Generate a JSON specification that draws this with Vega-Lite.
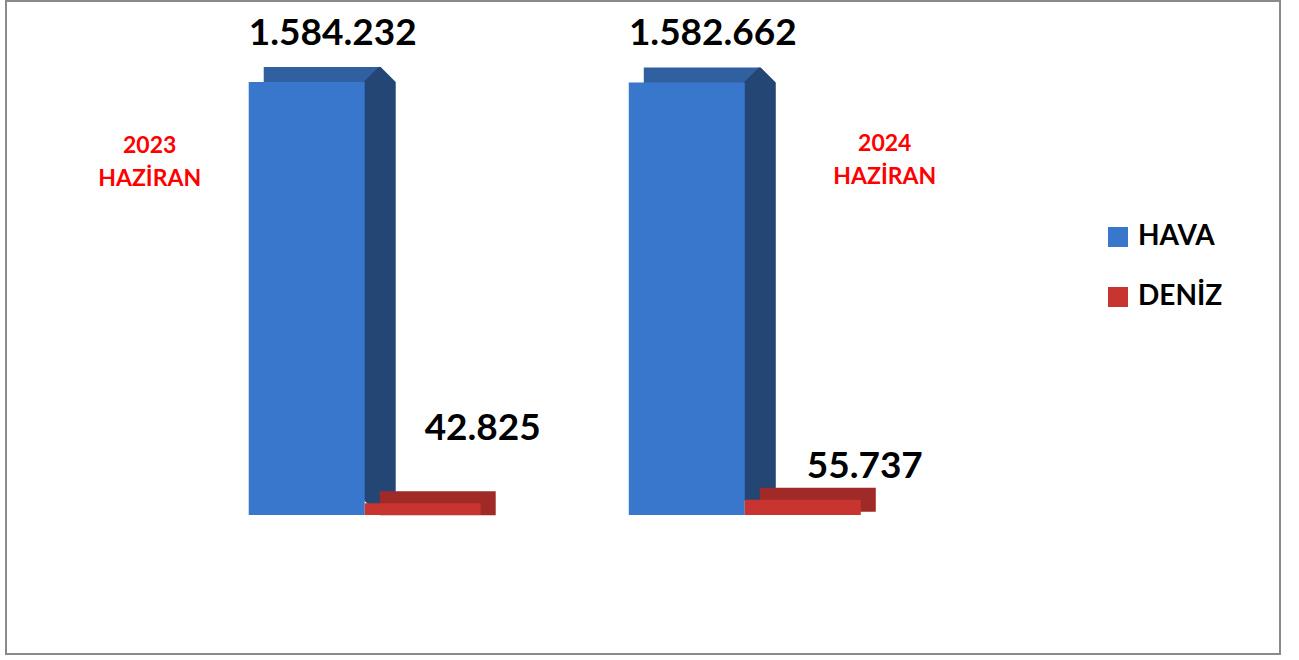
{
  "$schema": "https://vega.github.io/schema/vega-lite/v6.json",
  "width": 1274,
  "height": 653,
  "padding": {"left": 6, "top": 1, "right": 19, "bottom": 6},
  "autosize": {"type": "none"},
  "background": "white",
  "config": {
    "view": {"stroke": "#8a8a8a", "strokeWidth": 2},
    "font": "Lato",
    "locale": {"number": {"decimal": ",", "thousands": ".", "grouping": [3], "currency": ["", ""]}}
  },
  "data": {"values": [
    {"year": "2023", "type": "HAVA", "value": 1584232},
    {"year": "2023", "type": "DENİZ", "value": 42825},
    {"year": "2024", "type": "HAVA", "value": 1582662},
    {"year": "2024", "type": "DENİZ", "value": 55737}
  ]},
  "encoding": {
    "x": {"field": "year", "type": "nominal", "axis": null,
      "scale": {"domain": ["2023", "2024"], "paddingInner": 0.368, "paddingOuter": 0.86, "align": 0.365}},
    "y": {"field": "value", "type": "quantitative", "axis": null,
      "scale": {"domain": [-508600, 1880700], "zero": false, "nice": false}}
  },
  "layer": [
    {
      "transform": [{"filter": "datum.type === 'HAVA'"}],
      "mark": {"type": "bar", "width": 116, "xOffset": -43, "fill": "#30609f", "stroke": "#30609f", "strokeWidth": 30, "strokeJoin": "bevel"},
      "encoding": {"y2": {"field": "value"}}
    },
    {
      "transform": [{"filter": "datum.type === 'HAVA'"}],
      "mark": {"type": "bar", "width": 2, "xOffset": 15, "fill": "#234675", "stroke": "#234675", "strokeWidth": 30, "strokeJoin": "bevel"},
      "encoding": {"y2": {"datum": 55000}}
    },
    {
      "transform": [{"filter": "datum.type === 'HAVA'"}],
      "mark": {"type": "bar", "width": 116, "xOffset": -58},
      "encoding": {
        "color": {"field": "type", "type": "nominal",
          "scale": {"domain": ["HAVA", "DENİZ"], "range": ["#3877cc", "#c8342f"]},
          "legend": {"title": null, "orient": "none", "legendX": 1098, "legendY": 222, "padding": 0,
            "symbolType": "square", "symbolSize": 400, "symbolStrokeWidth": 0,
            "labelFontSize": 28, "labelFontWeight": "bold", "labelColor": "#000000", "labelFont": "Lato",
            "rowPadding": 32, "labelOffset": 6}}
      }
    },
    {
      "transform": [{"filter": "datum.type === 'DENİZ'"}],
      "mark": {"type": "bar", "width": 116, "xOffset": 73, "fill": "#a02a27", "stroke": "#a02a27", "strokeWidth": 24, "strokeJoin": "bevel"},
      "encoding": {"y2": {"field": "value"}}
    },
    {
      "transform": [{"filter": "datum.type === 'DENİZ'"}],
      "mark": {"type": "bar", "width": 116, "xOffset": 58},
      "encoding": {
        "color": {"field": "type", "type": "nominal"}
      }
    },
    {
      "transform": [{"filter": "datum.type === 'HAVA'"}],
      "mark": {"type": "text", "fontSize": 37, "fontWeight": "bold", "color": "#000000", "baseline": "alphabetic", "dx": -32, "dy": -37},
      "encoding": {"text": {"field": "value", "type": "quantitative", "format": ",d"}}
    },
    {
      "transform": [{"filter": "datum.type === 'DENİZ' && datum.year === '2023'"}],
      "mark": {"type": "text", "fontSize": 37, "fontWeight": "bold", "color": "#000000", "baseline": "alphabetic", "dx": 118, "dy": -63},
      "encoding": {"text": {"field": "value", "type": "quantitative", "format": ",d"}}
    },
    {
      "transform": [{"filter": "datum.type === 'DENİZ' && datum.year === '2024'"}],
      "mark": {"type": "text", "fontSize": 37, "fontWeight": "bold", "color": "#000000", "baseline": "alphabetic", "dx": 120, "dy": -22},
      "encoding": {"text": {"field": "value", "type": "quantitative", "format": ",d"}}
    },
    {
      "transform": [{"filter": "datum.type === 'HAVA' && datum.year === '2023'"}],
      "mark": {"type": "text", "fontSize": 23, "fontWeight": "bold", "color": "#ff0000", "baseline": "alphabetic", "lineBreak": "\n", "lineHeight": 33, "dx": -215},
      "encoding": {
        "text": {"value": "2023\nHAZİRAN"},
        "y": {"datum": 1325000, "type": "quantitative"}
      }
    },
    {
      "transform": [{"filter": "datum.type === 'DENİZ' && datum.year === '2024'"}],
      "mark": {"type": "text", "fontSize": 23, "fontWeight": "bold", "color": "#ff0000", "baseline": "alphabetic", "lineBreak": "\n", "lineHeight": 33, "dx": 140},
      "encoding": {
        "text": {"value": "2024\nHAZİRAN"},
        "y": {"datum": 1332000, "type": "quantitative"}
      }
    }
  ]
}
